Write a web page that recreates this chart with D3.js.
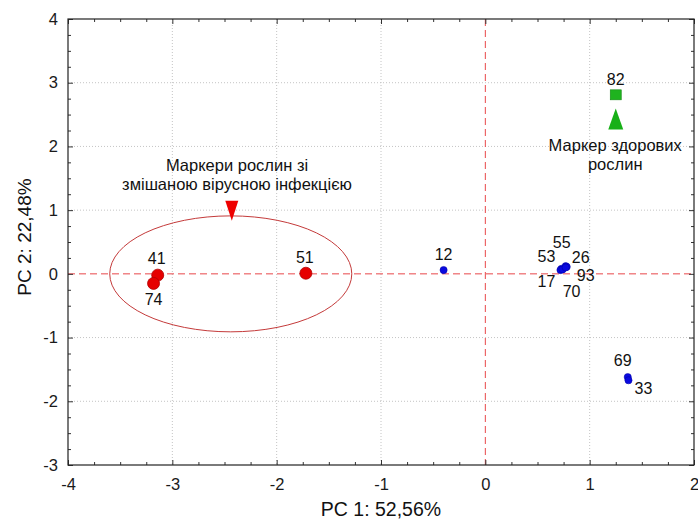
<!DOCTYPE html>
<html>
<head>
<meta charset="utf-8">
<script src="https://cdn.jsdelivr.net/npm/d3@7"></script>
<style>
  html, body { margin: 0; padding: 0; background: #fff; }
  svg { display: block; font-family: Arial, "Liberation Sans", sans-serif; }
</style>
</head>
<body>
<svg id="chart" width="698" height="521"></svg>
<script>
// ---------------- data ----------------
const mixedLabels = ["41", "74", "51"];
const mixedPC1 = [-3.14, -3.18, -1.72];
const mixedPC2 = [-0.02, -0.15, 0.01];

const otherLabels = ["12", "53", "17", "70", "55", "26", "93", "69", "33"];
const otherPC1 = [-0.40, 0.73, 0.72, 0.74, 0.77, 0.78, 0.77, 1.365, 1.372];
const otherPC2 = [0.06, 0.08, 0.06, 0.07, 0.12, 0.11, 0.10, -1.62, -1.67];

const healthyLabels = ["82"];
const healthyPC1 = [1.25];
const healthyPC2 = [2.81];

const mixedMarker = { pc1: -2.43, pc2: 0.99 };
const healthyMarker = { pc1: 1.25, pc2: 2.43 };
const mixedEllipse = { cx: -2.44, cy: 0.0, rx: 1.16, ry: 0.91 };

const mixedText = ["Маркери рослин зі", "змішаною вірусною інфекцією"];
const healthyText = ["Маркер здорових", "рослин"];

const xTicks = [-4, -3, -2, -1, 0, 1, 2];
const yTicks = [-3, -2, -1, 0, 1, 2, 3, 4];
const xTitle = "PC 1: 52,56%";
const yTitle = "PC 2: 22,48%";

// ---------------- layout ----------------
const L = 68, R = 694, T = 19, B = 465;
const svg = d3.select("#chart");
const x = d3.scaleLinear().domain([-4, 2]).range([L, R]);
const y = d3.scaleLinear().domain([-3, 4]).range([B, T]);
const fmt = d => String(d);

// label offsets (pixels) relative to each point
const labelOffset = {
  "41": [-1, -11], "74": [0, 22], "51": [-1, -10], "12": [0, -10],
  "53": [-15, -7], "17": [-14, 17], "70": [9, 28], "55": [-4, -18],
  "26": [14, -4], "93": [20, 14], "69": [-5, -11], "33": [15, 14],
  "82": [0, -10]
};

// grid lines
const gx = xTicks.filter(v => v !== 0 && v !== -4 && v !== 2);
const gy = yTicks.filter(v => v !== 0 && v !== -3 && v !== 4);
svg.append("g").selectAll("line").data(gx).join("line")
  .attr("x1", d => x(d)).attr("x2", d => x(d)).attr("y1", T).attr("y2", B)
  .attr("stroke", "#c4c4c4").attr("stroke-width", 1).attr("stroke-dasharray", "1,2");
svg.append("g").selectAll("line").data(gy).join("line")
  .attr("y1", d => y(d)).attr("y2", d => y(d)).attr("x1", L).attr("x2", R)
  .attr("stroke", "#c4c4c4").attr("stroke-width", 1).attr("stroke-dasharray", "1,2");

// zero lines
svg.append("line").attr("x1", x(0)).attr("x2", x(0)).attr("y1", T).attr("y2", B)
  .attr("stroke", "#e8474a").attr("stroke-width", 1).attr("stroke-dasharray", "7,4");
svg.append("line").attr("x1", L).attr("x2", R).attr("y1", y(0)).attr("y2", y(0))
  .attr("stroke", "#e8474a").attr("stroke-width", 1).attr("stroke-dasharray", "7,4");

// axes
const minorX = d3.range(-4, 2.001, 0.25).filter(v => Math.abs(v - Math.round(v)) > 1e-6);
const minorY = d3.range(-3, 4.001, 0.25).filter(v => Math.abs(v - Math.round(v)) > 1e-6);
function styleAxis(g) {
  g.select(".domain").remove();
  g.selectAll("line").attr("stroke", "#333");
  g.selectAll("text").attr("font-size", 16.5).attr("fill", "#1a1a1a")
    .attr("font-family", "Arial, 'Liberation Sans', sans-serif");
}
svg.append("g").attr("transform", `translate(0,${B})`)
  .call(d3.axisBottom(x).tickValues(xTicks).tickSize(-5).tickPadding(13).tickFormat(fmt))
  .call(styleAxis);
svg.append("g").attr("transform", `translate(0,${B})`)
  .call(d3.axisBottom(x).tickValues(minorX).tickSize(-3).tickFormat(""))
  .call(styleAxis);
svg.append("g").attr("transform", `translate(0,${T})`)
  .call(d3.axisTop(x).tickValues(xTicks).tickSize(-5).tickFormat(""))
  .call(styleAxis);
svg.append("g").attr("transform", `translate(0,${T})`)
  .call(d3.axisTop(x).tickValues(minorX).tickSize(-3).tickFormat(""))
  .call(styleAxis);
svg.append("g").attr("transform", `translate(${L},0)`)
  .call(d3.axisLeft(y).tickValues(yTicks).tickSize(-5).tickPadding(10).tickFormat(fmt))
  .call(styleAxis);
svg.append("g").attr("transform", `translate(${L},0)`)
  .call(d3.axisLeft(y).tickValues(minorY).tickSize(-3).tickFormat(""))
  .call(styleAxis);
svg.append("g").attr("transform", `translate(${R},0)`)
  .call(d3.axisRight(y).tickValues(yTicks).tickSize(-5).tickFormat(""))
  .call(styleAxis);
svg.append("g").attr("transform", `translate(${R},0)`)
  .call(d3.axisRight(y).tickValues(minorY).tickSize(-3).tickFormat(""))
  .call(styleAxis);

// frame
svg.append("rect").attr("x", L).attr("y", T).attr("width", R - L).attr("height", B - T)
  .attr("fill", "none").attr("stroke", "#222").attr("stroke-width", 1.2);

// ellipse
svg.append("ellipse")
  .attr("cx", x(mixedEllipse.cx)).attr("cy", y(mixedEllipse.cy))
  .attr("rx", x(mixedEllipse.cx + mixedEllipse.rx) - x(mixedEllipse.cx))
  .attr("ry", y(mixedEllipse.cy) - y(mixedEllipse.cy + mixedEllipse.ry))
  .attr("fill", "none").attr("stroke", "#c43a3a").attr("stroke-width", 1);

// points
const mixed = mixedLabels.map((l, i) => ({ label: l, a: mixedPC1[i], b: mixedPC2[i] }));
const other = otherLabels.map((l, i) => ({ label: l, a: otherPC1[i], b: otherPC2[i] }));
const healthy = healthyLabels.map((l, i) => ({ label: l, a: healthyPC1[i], b: healthyPC2[i] }));

svg.append("g").selectAll("circle").data(mixed).join("circle")
  .attr("cx", d => x(d.a)).attr("cy", d => y(d.b)).attr("r", 6)
  .attr("fill", "#e60000").attr("stroke", "#b00000").attr("stroke-width", 0.8);
svg.append("g").selectAll("circle").data(other).join("circle")
  .attr("cx", d => x(d.a)).attr("cy", d => y(d.b)).attr("r", 3.6)
  .attr("fill", "#0a0ae0").attr("stroke", "#0000a0").attr("stroke-width", 0.5);
svg.append("g").selectAll("rect").data(healthy).join("rect")
  .attr("x", d => x(d.a) - 5.5).attr("y", d => y(d.b) - 5).attr("width", 11).attr("height", 10)
  .attr("fill", "#1fb31f").attr("stroke", "#138a13").attr("stroke-width", 0.6);

// marker triangles
const mx = x(mixedMarker.pc1), my = y(mixedMarker.pc2);
svg.append("path")
  .attr("d", `M${mx - 6.5},${my - 10} L${mx + 6.5},${my - 10} L${mx},${my + 10} Z`)
  .attr("fill", "#ee0000");
const hx = x(healthyMarker.pc1), hy = y(healthyMarker.pc2);
svg.append("path")
  .attr("d", `M${hx - 7.5},${hy + 10.5} L${hx + 7.5},${hy + 10.5} L${hx},${hy - 10.5} Z`)
  .attr("fill", "#18b018");

// point labels
const allPts = mixed.concat(other, healthy);
svg.append("g").selectAll("text").data(allPts).join("text")
  .attr("x", d => x(d.a) + labelOffset[d.label][0])
  .attr("y", d => y(d.b) + labelOffset[d.label][1])
  .attr("text-anchor", "middle").attr("font-size", 16).attr("fill", "#111")
  .text(d => d.label);

// annotations
svg.append("g").selectAll("text").data(mixedText).join("text")
  .attr("x", x(-2.38)).attr("y", (d, i) => 171 + i * 19)
  .attr("text-anchor", "middle").attr("font-size", 16.5).attr("fill", "#111")
  .text(d => d);
svg.append("g").selectAll("text").data(healthyText).join("text")
  .attr("x", x(1.245)).attr("y", (d, i) => 151 + i * 19)
  .attr("text-anchor", "middle").attr("font-size", 16.5).attr("fill", "#111")
  .text(d => d);

// axis titles
svg.append("text").attr("x", (L + R) / 2).attr("y", 516)
  .attr("text-anchor", "middle").attr("font-size", 19.5).attr("fill", "#111").text(xTitle);
svg.append("text").attr("transform", `translate(31,${(T + B) / 2 - 5}) rotate(-90)`)
  .attr("text-anchor", "middle").attr("font-size", 19).attr("fill", "#111").text(yTitle);
</script>
</body>
</html>
